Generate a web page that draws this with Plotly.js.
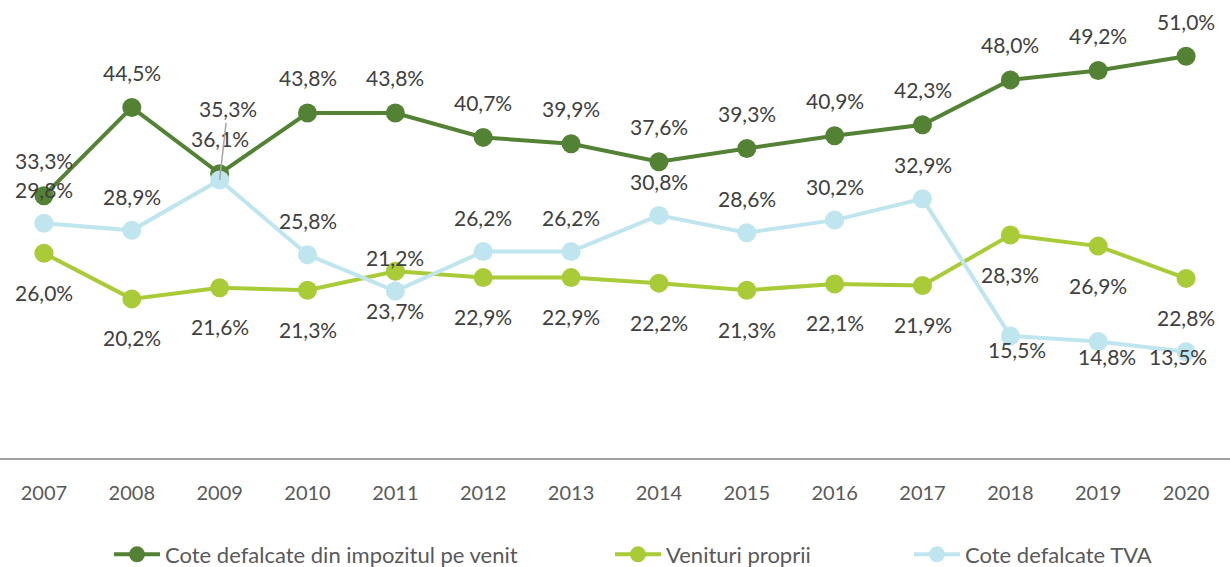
<!DOCTYPE html>
<html>
<head>
<meta charset="utf-8">
<script src="https://cdn.plot.ly/plotly-3.0.1.min.js"></script>
<style>html,body{margin:0;padding:0;background:#fff;}#chart{width:1230px;height:567px;}</style>
</head>
<body>
<div id="chart"></div>
<script>
const years = ['2007','2008','2009','2010','2011','2012','2013','2014','2015','2016','2017','2018','2019','2020'];
const impozitVenit = [33.3, 44.5, 36.1, 43.8, 43.8, 40.7, 39.9, 37.6, 39.3, 40.9, 42.3, 48.0, 49.2, 51.0];
const venituriProprii = [26.0, 20.2, 21.6, 21.3, 23.7, 22.9, 22.9, 22.2, 21.3, 22.1, 21.9, 28.3, 26.9, 22.8];
const coteTVA = [29.8, 28.9, 35.3, 25.8, 21.2, 26.2, 26.2, 30.8, 28.6, 30.2, 32.9, 15.5, 14.8, 13.5];
const seriesNames = ['Cote defalcate din impozitul pe venit', 'Venituri proprii', 'Cote defalcate TVA'];

const colors = ['#548235', '#A9CB38', '#BFE5EF'];
const FONT = 'Lato, "Open Sans", sans-serif';
const fmt = v => v.toFixed(1).replace('.', ',') + '%';
const legendIds = ['legend', 'legend2', 'legend3'];

const traces = [impozitVenit, venituriProprii, coteTVA].map((vals, k) => ({
  type: 'scatter', mode: 'lines+markers', x: years, y: vals, name: seriesNames[k],
  legend: legendIds[k],
  line: {color: colors[k], width: 4},
  marker: {color: colors[k], size: 19},
  cliponaxis: false, hoverinfo: 'skip'
}));

const annotations = [];
const labelFont = {family: FONT, size: 21, color: '#404040'};
function addLabels(vals, shiftFor) {
  vals.forEach((v, i) => {
    const s = shiftFor(i);
    const a = {x: i, y: v, xref: 'x', yref: 'y', text: fmt(v), font: labelFont,
      showarrow: false, xshift: s.dx || 0, yshift: s.dy || 0};
    if (s.arrow) {
      a.showarrow = true; a.arrowhead = 0; a.arrowwidth = 1.5; a.arrowcolor = '#A6A6A6';
      a.ax = s.ax; a.ay = s.ay; a.standoff = 0;
    }
    annotations.push(a);
  });
}
addLabels(impozitVenit, i => ({dy: 35}));
addLabels(venituriProprii, i => ({dy: -39}));
addLabels(coteTVA, i => {
  if (i === 2) return {arrow: true, ax: 8, ay: -71};
  if (i === 11) return {dx: 7, dy: -14};
  if (i === 12) return {dx: 9, dy: -15};
  if (i === 13) return {dx: -8, dy: -5};
  return {dy: 34};
});

const legendBase = {orientation: 'h', xref: 'container', yref: 'container', y: 0.022,
  xanchor: 'left', yanchor: 'middle', bgcolor: 'rgba(0,0,0,0)', borderwidth: 0,
  font: {family: FONT, size: 22, color: '#595959'}, itemwidth: 46};
const legendX = [109, 610, 909];

const layout = {
  width: 1230, height: 567,
  margin: {l: 0, r: 0, t: 9, b: 109},
  paper_bgcolor: '#ffffff', plot_bgcolor: '#ffffff',
  font: {family: FONT, size: 20, color: '#595959'},
  showlegend: true,
  legend: Object.assign({}, legendBase, {x: legendX[0] / 1230}),
  legend2: Object.assign({}, legendBase, {x: legendX[1] / 1230}),
  legend3: Object.assign({}, legendBase, {x: legendX[2] / 1230}),
  xaxis: {type: 'category', range: [-0.5, 13.5], showgrid: false, zeroline: false,
    showline: true, linecolor: '#A0A0A0', linewidth: 2, ticks: '', ticklabelstandoff: 16,
    tickfont: {family: FONT, size: 20, color: '#595959'}, fixedrange: true},
  yaxis: {range: [0, 57], showgrid: false, zeroline: false, showline: false,
    showticklabels: false, ticks: '', fixedrange: true},
  annotations: annotations
};

Plotly.newPlot('chart', traces, layout, {displayModeBar: false});
</script>
</body>
</html>
